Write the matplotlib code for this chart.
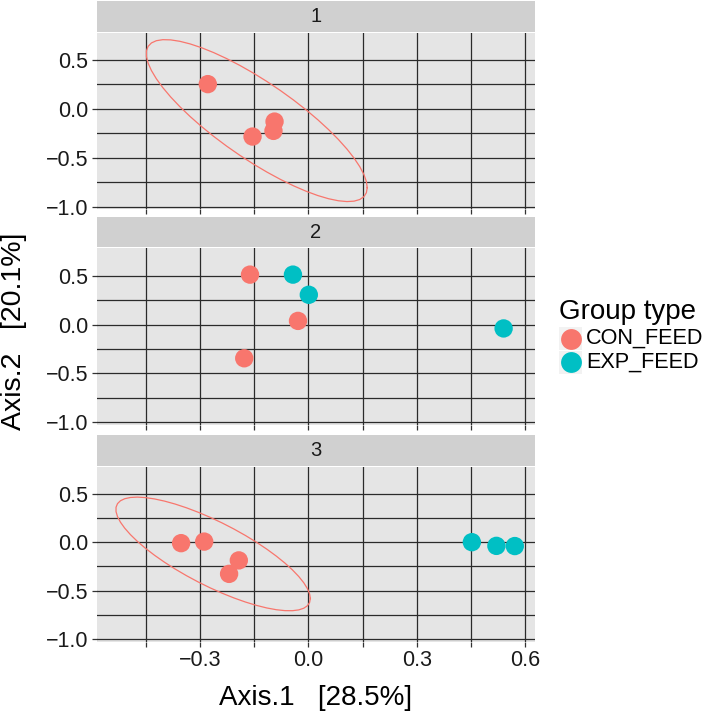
import numpy as np
import matplotlib
matplotlib.use("Agg")
import matplotlib.pyplot as plt
from matplotlib.patches import Rectangle
from matplotlib.lines import Line2D

plt.rcParams['font.family'] = ['Liberation Sans', 'DejaVu Sans']

# ---- data ----
panels = ["1", "2", "3"]
groups = ["CON_FEED", "EXP_FEED"]
colors = ["#F8766D", "#00BFC4"]

p1_group = ["CON_FEED", "CON_FEED", "CON_FEED", "CON_FEED"]
p1_axis1 = [-0.279, -0.155, -0.094, -0.097]
p1_axis2 = [0.253, -0.283, -0.130, -0.225]

p2_group = ["CON_FEED", "CON_FEED", "CON_FEED", "EXP_FEED", "EXP_FEED", "EXP_FEED"]
p2_axis1 = [-0.162, -0.029, -0.178, -0.043, 0.001, 0.541]
p2_axis2 = [0.510, 0.037, -0.345, 0.510, 0.304, -0.040]

p3_group = ["CON_FEED", "CON_FEED", "CON_FEED", "CON_FEED", "EXP_FEED", "EXP_FEED", "EXP_FEED"]
p3_axis1 = [-0.353, -0.289, -0.193, -0.220, 0.453, 0.521, 0.572]
p3_axis2 = [-0.010, 0.006, -0.188, -0.327, 0.000, -0.038, -0.040]

x_major = [-0.3, 0.0, 0.3, 0.6]
x_minor = [-0.45, -0.15, 0.15, 0.45]
y_major = [-1.0, -0.5, 0.0, 0.5]
y_minor = [-0.75, -0.25, 0.25]
xlab = "Axis.1   [28.5%]"
ylab = "Axis.2   [20.1%]"
legend_title = "Group type"

panel_data = [(p1_group, p1_axis1, p1_axis2),
              (p2_group, p2_axis1, p2_axis2),
              (p3_group, p3_axis1, p3_axis2)]


def cov_trob(x, nu=5, maxit=25, tol=0.01):
    n, p = x.shape
    wt = np.ones(n)
    loc = (wt[:, None] * x).sum(0) / wt.sum()
    w = np.sqrt(wt)
    X = x - loc
    for _ in range(maxit):
        w0 = w
        X = x - loc
        _, d, vt = np.linalg.svd(np.sqrt(w / w.sum())[:, None] * X, full_matrices=False)
        wX = X @ vt.T @ np.diag(1.0 / d)
        Q = (wX ** 2).sum(1)
        w = (wt * (nu + p)) / (nu + Q)
        loc = (w[:, None] * x).sum(0) / w.sum()
        if np.all(np.abs(w - w0) < tol):
            break
    sw = np.sqrt(w)[:, None] * X
    cov = sw.T @ sw / wt.sum()
    return loc, cov


def stat_ellipse(xs, ys, level=0.95, segments=51):
    pts = np.column_stack([xs, ys])
    n = len(pts)
    center, shape = cov_trob(pts)
    dfd = n - 1
    qf = dfd / 2.0 * ((1 - level) ** (-2.0 / dfd) - 1)
    radius = np.sqrt(2 * qf)
    R = np.linalg.cholesky(shape).T
    ang = np.arange(segments + 1) * 2 * np.pi / segments
    circ = np.column_stack([np.cos(ang), np.sin(ang)])
    ell = center + radius * (circ @ R)
    return ell[:, 0], ell[:, 1]


W, H = 709, 714
fig = plt.figure(figsize=(W / 100, H / 100), dpi=100)


def rect(l, t, r, b):
    return [l / W, 1 - b / H, (r - l) / W, (b - t) / H]


left, right = 96.7, 535.0
panel_tb = [(32.7, 209.3), (248.3, 425.0), (466.7, 641.7)]
strip_h = 30.5
grid_c = "#2b2b2b"

for i, (pname, (grp, a1, a2)) in enumerate(zip(panels, panel_data)):
    top, bot = panel_tb[i]
    ax = fig.add_axes(rect(left, top, right, bot))
    ax.set_facecolor("#E5E5E5")
    for s in ax.spines.values():
        s.set_visible(False)
    ax.set_xlim(-0.587, 0.628)
    ax.set_ylim(-1.027, 0.779)
    ax.set_xticks(sorted(x_major + x_minor))
    ax.set_yticks(y_major)
    ax.set_yticks(y_minor, minor=True)
    ax.grid(True, which="both", color=grid_c, lw=0.9)
    ax.set_axisbelow(True)
    ax.tick_params(axis="both", which="major", length=3.5, width=0.9, color="#333333",
                   labelsize=15.5, labelcolor="#1a1a1a", pad=2.5)
    ax.tick_params(axis="y", which="minor", length=0)
    xl = ["%.1f" % v if any(abs(v - m) < 1e-9 for m in x_major) else "" for v in sorted(x_major + x_minor)]
    xl = [t.replace("-", "\u2212") for t in xl]
    if i == 2:
        ax.set_xticklabels(xl)
    else:
        ax.set_xticklabels([])
    ax.set_yticklabels([("%.1f" % v).replace("-", "\u2212") for v in y_major])

    grp = np.array(grp)
    a1 = np.array(a1)
    a2 = np.array(a2)
    for g, c in zip(groups, colors):
        m = grp == g
        if m.sum() >= 4:
            ex, ey = stat_ellipse(a1[m], a2[m])
            ax.plot(ex, ey, color=c, lw=0.9, zorder=3)
        ax.scatter(a1[m], a2[m], s=175, color=c, edgecolors="none", zorder=4)

    # strip
    sax = fig.add_axes(rect(left, top - 1 - strip_h, right, top - 1))
    sax.set_facecolor("#D0D0D0")
    sax.set_xticks([]); sax.set_yticks([])
    for s in sax.spines.values():
        s.set_visible(False)
    sax.text(0.5, 0.5, pname, ha="center", va="center", fontsize=14.5,
             color="#1a1a1a", transform=sax.transAxes)

fig.text((left + right) / 2 / W, 1 - 698 / H, xlab, ha="center", va="center",
         fontsize=20, color="black")
fig.text(14 / W, 1 - 331 / H, ylab, ha="center", va="center", rotation=90,
         fontsize=20.5, color="black")

# legend
fig.text(559 / W, 1 - 312 / H, legend_title, ha="left", va="center", fontsize=20, color="black")
key_y = [338.5, 362.0]
for g, c, ky in zip(groups, colors, key_y):
    fig.add_artist(Rectangle((559 / W, 1 - (ky + 11.5) / H), 23 / W, 23 / H,
                             transform=fig.transFigure, facecolor="#F2F2F2", edgecolor="none"))
    fig.add_artist(Line2D([570.5 / W], [1 - ky / H], marker="o", markersize=15,
                          color=c, markeredgewidth=0, linestyle="none",
                          transform=fig.transFigure))
    fig.text(586 / W, 1 - ky / H, g, ha="left", va="center", fontsize=15.6, color="black")

fig.savefig("out.png", dpi=100)
